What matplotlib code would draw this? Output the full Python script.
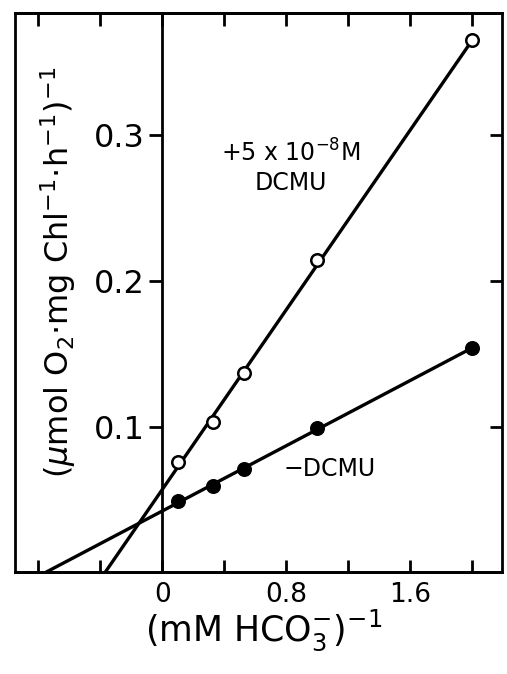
import numpy as np
from matplotlib import pyplot as plt

# reciprocal bicarbonate concentration, (mM HCO3-)^-1
inv_hco3 = [0.1, 0.33, 0.53, 1.0, 2.0]
# reciprocal rates, (umol O2 mg Chl^-1 h^-1)^-1
plus_dcmu = [0.076, 0.103, 0.137, 0.214, 0.365]
minus_dcmu = [0.049, 0.059, 0.071, 0.099, 0.154]

xticks = [-0.8, -0.4, 0.0, 0.4, 0.8, 1.2, 1.6, 2.0]
xticklabels = ['', '', '0', '', '0.8', '', '1.6', '']
yticks = [0.1, 0.2, 0.3]

plt.rcParams['font.family'] = 'DejaVu Sans'

fig = plt.figure(figsize=(5.07, 6.74), dpi=100)
ax = fig.add_axes([0.030, 0.151, 0.960, 0.830])
ax.set_xlim(-0.948, 2.19)
ax.set_ylim(0.0, 0.384)

#fitted lines run down to the x axis
for y, filled in ((plus_dcmu, False), (minus_dcmu, True)):
    slope, icpt = np.polyfit(inv_hco3, y, 1)
    x0 = -icpt / slope
    xl = np.array([x0, inv_hco3[-1]])
    ax.plot(xl, slope * xl + icpt, color='black', lw=2.4, zorder=2)
    ax.plot(inv_hco3, y, 'o', ms=9, mew=1.8, mec='black',
            mfc='black' if filled else 'white', zorder=3)

ax.spines['left'].set_position(('data', 0))
ax.spines['right'].set_visible(False)
for s in ('left', 'bottom', 'top'):
    ax.spines[s].set_linewidth(2)

ax.set_xticks(xticks)
ax.set_xticklabels(xticklabels)
ax.tick_params(axis='x', top=True, direction='in', length=9, width=2,
               labelsize=19, pad=7)
ax.set_yticks(yticks)
ax.set_yticklabels(['0.1', '0.2', '0.3'])
ax.tick_params(axis='y', direction='out', length=9.5, width=2,
               labelsize=23, pad=3)

# frame with inward ticks on the right
ax2 = ax.twinx()
ax2.set_ylim(ax.get_ylim())
ax2.set_yticks(yticks)
ax2.tick_params(axis='y', direction='in', length=9, width=2,
                labelright=False, left=False)
for s in ('left', 'right', 'bottom', 'top'):
    ax2.spines[s].set_linewidth(2)

ax.text(0.83, 0.288, '+5 x 10$^{-8}$M', ha='center', va='center', fontsize=17)
ax.text(0.83, 0.267, 'DCMU', ha='center', va='center', fontsize=17)
ax.text(1.08, 0.071, '\u2212DCMU', ha='center', va='center', fontsize=17)

ax.text(-0.67, 0.206, '($\\mu$mol O$_2$$\\cdot$mg Chl$^{-1}$$\\cdot$h$^{-1}$)$^{-1}$',
        rotation=90, ha='center', va='center', fontsize=23)
fig.text(264 / 507, 1 - 630 / 674, '(mM HCO$_3^{-}$)$^{-1}$',
         ha='center', va='center', fontsize=25)

fig.savefig('out.png', dpi=100)
